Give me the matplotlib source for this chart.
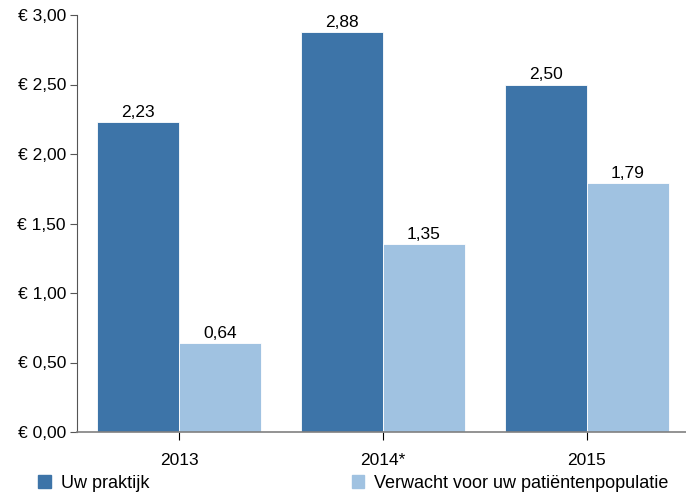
import numpy as np
import matplotlib.pyplot as plt
from matplotlib.patches import Patch
from matplotlib.ticker import FuncFormatter

plt.rcParams['font.family'] = ['Liberation Sans', 'DejaVu Sans']

years = ['2013', '2014*', '2015']
uw_praktijk = [2.23, 2.88, 2.50]
verwacht = [0.64, 1.35, 1.79]
labels = ['Uw praktijk', 'Verwacht voor uw patiëntenpopulatie']

dark = '#3d74a8'
light = '#a0c2e1'

fig = plt.figure(figsize=(6.86, 4.95), dpi=100)
ax = fig.add_axes([77 / 686, 63 / 495, 612 / 686, 417 / 495])

x = np.arange(len(years))
w = 0.4
b1 = ax.bar(x - w / 2, uw_praktijk, w, color=dark, edgecolor='white', linewidth=0.6)
b2 = ax.bar(x + w / 2, verwacht, w, color=light, edgecolor='white', linewidth=0.6)

for bars, vals in ((b1, uw_praktijk), (b2, verwacht)):
    for r, v in zip(bars, vals):
        ax.text(r.get_x() + r.get_width() / 2, v + 0.015, f'{v:.2f}'.replace('.', ','),
                ha='center', va='bottom', fontsize=12.5, color='black')

ax.set_xlim(-0.5, 2.5)
ax.set_ylim(0, 3.0)
ax.set_yticks(np.arange(0, 3.01, 0.5))
ax.yaxis.set_major_formatter(FuncFormatter(lambda v, p: '€ ' + f'{v:.2f}'.replace('.', ',')))
ax.set_xticks(x)
ax.set_xticklabels(years)

for s in ('top', 'right'):
    ax.spines[s].set_visible(False)
ax.spines['left'].set_color('#555555')
ax.spines['bottom'].set_color('#808080')
ax.spines['bottom'].set_linewidth(1.2)
ax.tick_params(axis='y', colors='#555555', labelcolor='black', labelsize=12.5, length=5, pad=3)
ax.tick_params(axis='x', colors='black', labelcolor='black', labelsize=12.5, length=6, pad=9)

handles = [Patch(color=dark), Patch(color=light)]
fig.legend(handles, labels, loc='lower left', bbox_to_anchor=(22 / 686, -13 / 495), ncol=2,
           frameon=False, fontsize=13, handlelength=0.7, handleheight=0.7,
           handletextpad=0.55, columnspacing=11.2)

fig.savefig('out.png', dpi=100)
